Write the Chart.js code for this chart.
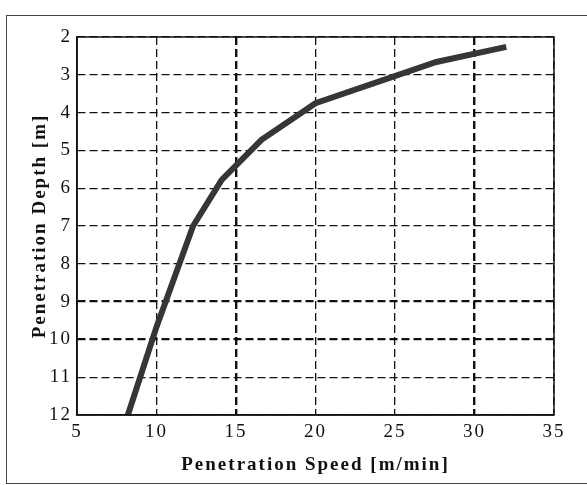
<!DOCTYPE html>
<html>
<head>
<meta charset="utf-8">
<script src="https://cdn.jsdelivr.net/npm/chart.js@4.4.1/dist/chart.umd.min.js"></script>
<style>
  body { margin: 0; background: #fff; }
  #wrap { position: relative; width: 587px; height: 485px; }
  #frame { position: absolute; left: 6px; top: 15px; width: 620px; height: 469px; border: 1.5px solid #444; box-sizing: border-box; }
  #wrap canvas { position: absolute; left: 0; top: 0; }
</style>
</head>
<body>
<div id="wrap">
  <div id="frame"></div>
  <canvas id="depthChart" width="587" height="485"></canvas>
</div>
<script>
// speed [m/min] vs depth [m]
const speed = [8.2, 10.0, 12.3, 14.1, 16.6, 20.0, 27.6, 32.0];
const depth = [12.0, 9.67, 7.0, 5.78, 4.72, 3.75, 2.66, 2.26];

const xTitle = "Penetration Speed [m/min]";
const yTitle = "Penetration Depth [m]";

const serif = "'Liberation Serif', 'Times New Roman', serif";

const points = speed.map((s, i) => ({ x: s, y: depth[i] }));

// spaced-out lettering like the scanned figure
const spacing = {
  id: "spacing",
  beforeDraw(chart) {
    chart.ctx.letterSpacing = "2px";
  }
};

// full box around the plot area
const box = {
  id: "box",
  afterDraw(chart) {
    const { ctx, chartArea: a } = chart;
    ctx.save();
    ctx.strokeStyle = "#111";
    ctx.lineWidth = 1.5;
    ctx.setLineDash([]);
    ctx.strokeRect(a.left, a.top, a.right - a.left, a.bottom - a.top);
    ctx.restore();
  }
};

const ctx = document.getElementById("depthChart");

new Chart(ctx, {
  type: "scatter",
  data: {
    datasets: [{
      data: points,
      showLine: true,
      borderColor: "#363636",
      borderWidth: 6,
      pointRadius: 0,
      tension: 0,
      clip: false
    }]
  },
  options: {
    responsive: false,
    animation: false,
    layout: { padding: { left: 0, top: 37, right: 33, bottom: 0 } },
    plugins: {
      legend: { display: false },
      tooltip: { enabled: false }
    },
    scales: {
      x: {
        type: "linear",
        min: 5,
        max: 35,
        afterFit: s => { s.height = 70; },
        ticks: {
          stepSize: 5,
          color: "#111",
          padding: 6,
          maxRotation: 0,
          font: { family: serif, size: 19 }
        },
        grid: {
          color: "#111",
          lineWidth: c => (c.tick && (c.tick.value === 15 || c.tick.value === 30)) ? 2.4 : 1.3,
          drawTicks: false
        },
        border: { display: true, color: "#111", width: 1.5, dash: [8, 4] },
        title: {
          display: true,
          text: xTitle,
          color: "#111",
          font: { family: serif, size: 19, weight: "bold" },
          padding: { top: 0, bottom: 9 }
        }
      },
      y: {
        type: "linear",
        reverse: true,
        min: 2,
        max: 12,
        afterFit: s => { s.width = 77; },
        ticks: {
          stepSize: 1,
          color: "#111",
          padding: 5,
          font: { family: serif, size: 19 }
        },
        grid: {
          color: "#111",
          lineWidth: c => (c.tick && (c.tick.value === 9 || c.tick.value === 10)) ? 2.2 : 1.3,
          drawTicks: false
        },
        border: { display: true, color: "#111", width: 1.5, dash: [8, 4] },
        title: {
          display: true,
          text: yTitle,
          color: "#111",
          font: { family: serif, size: 19, weight: "bold" },
          padding: { top: 29, bottom: 0 }
        }
      }
    }
  },
  plugins: [spacing, box]
});
</script>
</body>
</html>
